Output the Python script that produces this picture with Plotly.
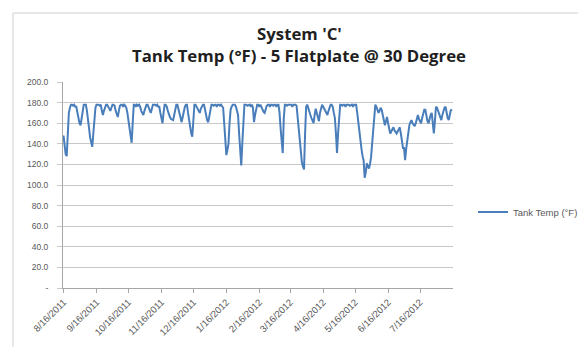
import pandas as pd
import plotly.graph_objects as go

# Daily tank temperature readings (°F), starting 8/16/2011
start_date = "2011-08-16"
tank_temp = [
    148, 136, 130, 128, 150, 170, 175, 178, 178, 177,
    178, 176, 176, 170, 165, 160, 158, 165, 172, 178,
    178, 178, 172, 165, 155, 146, 140, 137, 150, 165,
    175, 178, 178, 178, 177, 178, 172, 168, 172, 176,
    178, 178, 176, 174, 172, 175, 178, 178, 177, 172,
    168, 166, 172, 177, 178, 178, 176, 178, 177, 175,
    170, 162, 152, 145, 141, 160, 178, 178, 176, 178,
    177, 178, 176, 172, 170, 168, 172, 176, 178, 178,
    175, 172, 170, 174, 178, 178, 178, 177, 178, 176,
    176, 170, 164, 160, 170, 178, 178, 176, 172, 168,
    166, 164, 163, 163, 168, 174, 178, 178, 174, 168,
    164, 161, 166, 172, 176, 178, 178, 170, 162, 155,
    150, 147, 160, 178, 178, 176, 174, 172, 170, 174,
    176, 178, 178, 172, 166, 163, 161, 168, 174, 178,
    178, 177, 178, 178, 176, 178, 178, 177, 178, 176,
    175, 160, 140, 129, 134, 140, 160, 173, 176, 178,
    178, 178, 176, 172, 168, 150, 130, 119, 140, 165,
    178, 178, 178, 177, 178, 178, 176, 178, 175, 161,
    168, 175, 178, 178, 176, 178, 175, 172, 171, 170,
    174, 177, 178, 178, 176, 178, 178, 177, 178, 178,
    176, 178, 178, 170, 155, 140, 131, 165, 178, 178,
    177, 178, 178, 178, 178, 176, 178, 178, 178, 177,
    165, 153, 140, 130, 122, 118, 115, 150, 176, 178,
    174, 170, 168, 165, 162, 160, 168, 174, 170, 165,
    162, 170, 176, 178, 176, 174, 172, 170, 168, 172,
    176, 178, 178, 176, 170, 165, 150, 131, 150, 170,
    178, 178, 177, 178, 178, 176, 178, 178, 178, 177,
    178, 178, 176, 178, 178, 178, 170, 160, 152, 144,
    135, 128, 124, 107, 112, 121, 118, 116, 120, 127,
    140, 155, 166, 178, 176, 172, 170, 172, 175, 173,
    168, 160, 158, 162, 166, 160, 155, 150, 152, 154,
    156, 153, 151, 150, 152, 154, 156, 150, 142, 136,
    136, 124, 135, 145, 153, 158, 161, 163, 160, 158,
    157, 160, 164, 168, 164, 162, 160, 165, 170, 173,
    173, 166, 162, 160, 165, 168, 170, 160, 150, 162,
    176, 175, 172, 168, 165, 163, 168, 172, 175, 176,
    170, 165, 163, 168, 173, 172,
]

# Category tick labels (monthly, 16th of each month)
x_tick_dates = ["2011-08-16", "2011-09-16", "2011-10-16", "2011-11-16",
                "2011-12-16", "2012-01-16", "2012-02-16", "2012-03-16",
                "2012-04-16", "2012-05-16", "2012-06-16", "2012-07-16"]
x_tick_labels = ["8/16/2011", "9/16/2011", "10/16/2011", "11/16/2011",
                 "12/16/2011", "1/16/2012", "2/16/2012", "3/16/2012",
                 "4/16/2012", "5/16/2012", "6/16/2012", "7/16/2012"]

y_tick_vals = [0, 20, 40, 60, 80, 100, 120, 140, 160, 180, 200]
y_tick_labels = ["-", "20.0", "40.0", "60.0", "80.0", "100.0", "120.0",
                 "140.0", "160.0", "180.0", "200.0"]

title_lines = ["System 'C'", "Tank Temp (°F) - 5 Flatplate @ 30 Degree"]

dates = pd.date_range(start_date, periods=len(tank_temp), freq="D")

W, H = 578, 347
L, R, T, B = 63, 125, 82, 59
pw, ph = W - L - R, H - T - B


def px_x(x):
    return (x - L) / pw


def px_y(y):
    return (H - B - y) / ph


fig = go.Figure()
fig.add_trace(go.Scatter(
    x=dates, y=tank_temp, mode="lines", name="Tank Temp (°F)",
    line=dict(color="#4a7ebb", width=2),
))

grey_txt = "#595959"
fig.update_layout(
    width=W, height=H,
    margin=dict(l=L, r=R, t=T, b=B, pad=0, autoexpand=False),
    paper_bgcolor="white", plot_bgcolor="white",
    font=dict(family="Liberation Sans, Arial, sans-serif", color=grey_txt),
    showlegend=True,
    legend=dict(
        x=px_x(473), xanchor="left",
        y=px_y(212), yanchor="middle",
        font=dict(size=9.5, color=grey_txt),
        bgcolor="rgba(0,0,0,0)", itemwidth=30,
    ),
    xaxis=dict(
        type="date",
        range=["2011-08-15 12:00", "2012-08-16"],
        tickvals=x_tick_dates, ticktext=x_tick_labels,
        tickangle=-45, tickfont=dict(size=9.5, color=grey_txt),
        showgrid=False, showline=True, linecolor="#a6a6a6", linewidth=1,
        ticks="outside", ticklen=4, tickcolor="#a6a6a6",
        zeroline=False,
    ),
    yaxis=dict(
        range=[0, 200],
        tickvals=y_tick_vals, ticktext=y_tick_labels,
        tickfont=dict(size=8.5, color=grey_txt),
        showgrid=True, gridcolor="#c8c8c8", gridwidth=1,
        showline=True, linecolor="#a6a6a6", linewidth=1,
        ticks="outside", ticklen=5, tickcolor="#c8c8c8",
        ticklabelstandoff=7,
        zeroline=False,
    ),
)

# Two-line chart title
for text, ypx in zip(title_lines, [33, 55]):
    fig.add_annotation(
        text=text, xref="paper", yref="paper",
        x=px_x(299), y=px_y(ypx), xanchor="center", yanchor="middle",
        showarrow=False,
        font=dict(family="Open Sans, Liberation Sans, sans-serif", size=16.8,
                  color="#1f1f1f", weight="bold"),
    )

# Chart frame (left and top edges of the chart box)
fig.add_shape(type="line", xref="paper", yref="paper",
              x0=px_x(13), x1=px_x(13), y0=px_y(13), y1=px_y(350),
              line=dict(color="#d0d0d0", width=1))
fig.add_shape(type="line", xref="paper", yref="paper",
              x0=px_x(13), x1=px_x(580), y0=px_y(13), y1=px_y(13),
              line=dict(color="#d0d0d0", width=1))

fig.write_html("out.html")
